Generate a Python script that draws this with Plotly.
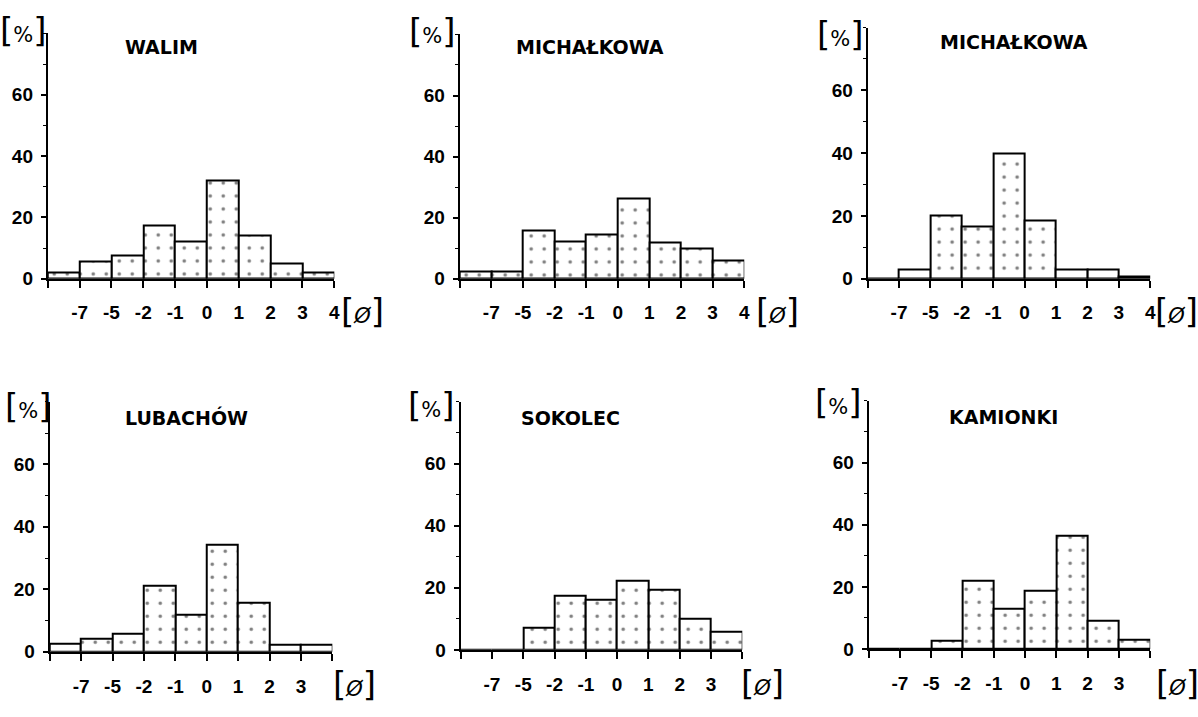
import plotly.graph_objects as go

# Grain-size fractions (phi scale): nine classes between the marked boundaries
phi_ticks_full = ["", "-7", "-5", "-2", "-1", "0", "1", "2", "3", "4"]
phi_ticks_short = ["", "-7", "-5", "-2", "-1", "0", "1", "2", "3", ""]

walim = [2.0, 5.5, 7.5, 17.5, 12.0, 32.0, 14.0, 5.0, 2.0]
michalkowa_a = [2.4, 2.2, 15.7, 12.2, 14.5, 26.3, 12.0, 9.8, 5.9]
michalkowa_b = [0.0, 2.9, 20.0, 16.5, 39.8, 18.5, 2.8, 2.9, 0.8]
lubachow = [2.6, 4.2, 5.9, 21.3, 12.0, 34.2, 15.7, 2.3, 2.3]
sokolec = [0.0, 0.0, 7.2, 17.6, 16.3, 22.4, 19.5, 10.2, 6.0]
kamionki = [0.0, 0.0, 2.5, 21.9, 12.9, 18.7, 36.5, 9.2, 3.0]

titles = ["WALIM", "MICHAŁKOWA", "MICHAŁKOWA", "LUBACHÓW", "SOKOLEC", "KAMIONKI"]
series = [walim, michalkowa_a, michalkowa_b, lubachow, sokolec, kamionki]
tick_sets = [phi_ticks_full] * 3 + [phi_ticks_short] * 3

W, H = 1198, 717


def px_x(v):
    return v / W


def px_y(v):
    return 1 - v / H


# panel frames in pixels: left, right, top(80 %), bottom(0 %)
frames = [
    (48, 336, 34, 283),
    (462, 748, 35, 283),
    (872, 1156, 28, 283),
    (50, 334, 408, 662),
    (463, 746, 408, 660),
    (873, 1156, 407, 659),
]
title_pos = [(162, 48), (593, 48), (1019, 43), (187, 424), (573, 425), (1009, 423)]
pct_pos = [(24, 30), (435, 31), (845, 35), (29, 412), (434, 411), (843, 408)]
phi_pos = [(364, 316), (781, 316), (1182, 316), (356, 695), (766, 694), (1183, 694)]

fig = go.Figure()
bold_font = dict(family="Liberation Sans", size=19, color="black", weight="bold")

for i, (vals, ticks) in enumerate(zip(series, tick_sets)):
    n = i + 1
    xa = "x" if n == 1 else f"x{n}"
    ya = "y" if n == 1 else f"y{n}"
    fig.add_trace(go.Bar(
        x=list(range(len(vals))),
        y=vals,
        offset=0,
        width=1,
        xaxis=xa,
        yaxis=ya,
        marker=dict(
            color="white",
            line=dict(color="black", width=2),
            pattern=dict(shape=".", fgcolor="black", bgcolor="white",
                         size=13, solidity=0.06),
        ),
        showlegend=False,
        hoverinfo="skip",
    ))
    left, right, top, bottom = frames[i]
    sfx = "" if n == 1 else str(n)
    fig.layout["xaxis" + sfx] = dict(
        domain=[px_x(left), px_x(right)],
        anchor=ya,
        range=[0, 9],
        tickmode="array",
        tickvals=list(range(len(ticks))),
        ticktext=ticks,
        ticks="outside",
        ticklen=7,
        tickwidth=2,
        tickcolor="black",
        showline=True,
        linewidth=2,
        linecolor="black",
        showgrid=False,
        zeroline=False,
        tickfont=bold_font,
        ticklabelstandoff=9,
        fixedrange=True,
    )
    fig.layout["yaxis" + sfx] = dict(
        domain=[px_y(bottom), px_y(top)],
        anchor=xa,
        range=[0, 80],
        tickmode="array",
        tickvals=[0, 20, 40, 60],
        ticks="outside",
        ticklen=5,
        tickwidth=2,
        tickcolor="black",
        minor=dict(tickmode="array", tickvals=[10, 30, 50, 70, 80],
                   ticks="outside", ticklen=3, tickwidth=1, tickcolor="black"),
        showline=True,
        linewidth=2,
        linecolor="black",
        showgrid=False,
        zeroline=False,
        tickfont=bold_font,
        ticklabelstandoff=4,
        fixedrange=True,
    )

    tx, ty = title_pos[i]
    fig.add_annotation(x=px_x(tx), y=px_y(ty), xref="paper", yref="paper",
                       text=titles[i], showarrow=False,
                       font=dict(family="DejaVu Sans", size=19, color="black",
                                 weight="bold"),
                       xanchor="center", yanchor="middle")
    cx, cy = pct_pos[i]
    fig.add_annotation(x=px_x(cx), y=px_y(cy), xref="paper", yref="paper",
                       text="[<span style='font-size:21px'>%</span>]",
                       showarrow=False,
                       font=dict(family="DejaVu Sans", size=34, color="black"),
                       xanchor="center", yanchor="middle")
    fx, fy = phi_pos[i]
    fig.add_annotation(x=px_x(fx), y=px_y(fy), xref="paper", yref="paper",
                       text="[<span style='font-size:21px'><i>Ø</i></span>]",
                       showarrow=False,
                       font=dict(family="DejaVu Sans", size=34, color="black"),
                       xanchor="center", yanchor="middle")

fig.update_layout(
    width=W,
    height=H,
    margin=dict(l=0, r=0, t=0, b=0),
    paper_bgcolor="white",
    plot_bgcolor="rgba(0,0,0,0)",
    bargap=0,
)

fig.write_html("out.html")
